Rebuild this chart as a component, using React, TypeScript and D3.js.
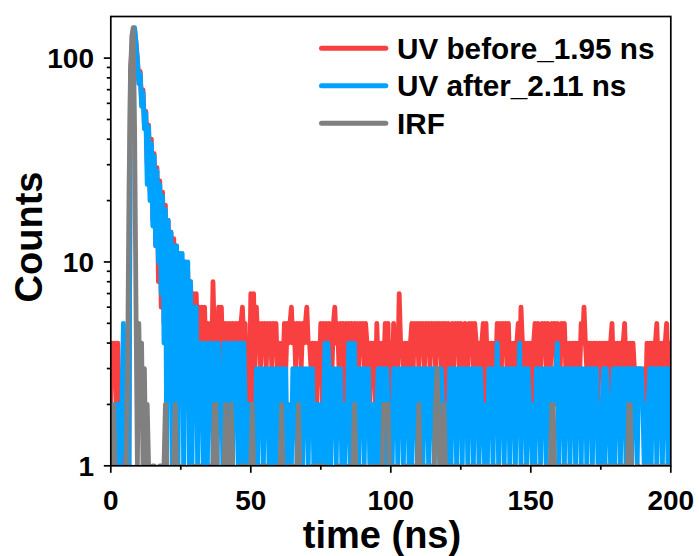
import React from 'react';
import * as d3 from 'd3';

// channel width of the decay histograms (ns)
const timeStep = 0.5;
const timeTicks = [0, 50, 100, 150, 200];
const timeMinorTicks = [25, 75, 125, 175];
const countTicks = [1, 10, 100];
const countMinorTicks = [2, 3, 4, 5, 6, 7, 8, 9, 20, 30, 40, 50, 60, 70, 80, 90];
const seriesLabels = ['UV before_1.95 ns', 'UV after_2.11 ns', 'IRF'];

// counts per channel, t = 0, 0.5, 1, ... 200 ns
const uvBefore = [
  2,4,3,4,2,4,2,1,2,1, 2,1,2,1,85,112,128,138,120,100,
  78,86,60,70,47,55,30,47,22,40, 16,34,12,29,8,25,6,22,5,19,
  2,16,5,14,3,13,4,12,2,11, 3,10,2,10,3,9,2,8,3,7,
  3,7,4,6,3,6,4,6,3,5, 4,5,3,8,4,5,3,6,4,6,
  3,5,4,5,3,5,4,5,3,5, 4,5,3,5,6,4,5,2,3,2,
  7,2,7,3,6,4,5,3,5,4, 5,3,5,4,5,3,5,4,5,3,
  4,3,4,3,5,3,5,4,5,6, 4,5,3,5,4,5,3,5,4,5,
  6,4,4,3,4,3,4,2,4,3, 5,2,5,4,5,3,5,4,3,5,
  6,4,5,3,5,4,5,2,5,3, 5,4,5,3,5,4,5,3,5,4,
  5,3,5,4,4,2,4,3,4,2, 5,3,4,3,4,3,5,3,5,2,
  4,2,5,3,4,3,7,4,4,3, 4,3,4,3,4,5,3,5,4,5,
  3,5,4,5,3,5,4,5,3,5, 4,5,3,5,4,5,3,5,2,5,
  2,5,3,4,5,3,5,4,5,3, 5,4,3,5,4,3,5,4,5,3,
  5,4,3,4,3,4,5,2,5,3, 4,3,4,3,4,3,5,4,5,3,
  5,4,5,3,5,3,4,3,4,3, 4,5,3,6,4,3,4,3,4,3,
  4,2,4,5,3,5,4,3,5,4, 5,3,5,4,3,5,4,5,3,5,
  4,3,5,4,5,3,4,3,4,3, 4,3,4,3,4,3,5,4,6,4,
  3,4,3,4,3,4,3,4,2,4, 3,4,3,4,3,4,2,4,5,3,
  4,3,4,3,4,3,4,5,3,4, 3,4,3,4,3,2,3,2,3,2,
  2,3,2,4,3,4,3,4,3,4, 5,3,4,3,4,3,4,5,3,4,
  4,
];

const uvAfter = [
  1,2,1,2,2,1,2,1,2,5, 2,1,2,1,70,110,130,141,118,96,
  75,84,58,68,45,54,24,46,20,38, 15,33,12,28,10,24,7,21,4,18,
  1,16,3,14,1,12,2,12,1,11, 2,11,1,10,2,10,1,8,1,6,
  2,6,1,4,2,4,1,4,3,1, 4,2,4,1,3,4,1,4,2,3,
  1,4,2,4,1,3,4,1,4,2, 4,1,3,4,1,4,2,1,2,1,
  2,1,2,1,3,1,3,2,3,1, 3,2,3,1,3,1,2,3,1,3,
  2,3,1,3,2,3,1,2,1,1, 3,2,3,1,3,2,3,1,3,2,
  3,1,3,2,3,1,2,1,2,1, 2,1,2,4,1,4,3,1,3,2,
  3,1,3,2,3,1,2,1,2,2, 4,1,4,2,4,1,3,1,3,2,
  3,1,3,2,3,1,2,1,2,1, 2,3,1,3,2,3,1,3,2,1,
  2,1,3,2,3,1,3,2,3,1, 3,2,3,1,3,1,3,2,3,1,
  3,2,3,1,3,2,3,1,3,2, 3,1,3,2,3,1,3,2,2,1,
  2,1,3,1,3,2,3,1,3,2, 3,1,3,2,3,1,3,2,3,1,
  3,2,3,1,3,2,2,1,2,1, 3,2,3,1,3,2,4,1,3,2,
  3,1,3,2,3,1,3,2,3,1, 3,2,4,1,3,2,3,1,3,2,
  2,1,2,1,3,2,3,1,3,2, 3,1,3,2,3,1,3,2,3,4,
  1,3,2,3,1,3,2,3,1,3, 2,3,1,3,2,3,1,3,2,3,
  1,3,2,3,1,3,2,3,1,2, 1,2,3,1,3,2,2,1,2,3,
  1,3,2,3,1,3,2,3,1,3, 2,3,1,3,2,3,1,3,2,3,
  2,1,2,1,2,3,1,3,2,3, 1,3,2,3,1,3,2,3,1,3,
  2,
];

const irf = [
  0,1,2,1,0,0,0,0,0,0, 0,1,3,22,78,128,141,45,6,1,
  5,2,4,1,3,1,2,1,0,0, 1,1,0,0,0,1,1,1,1,2,
  1,0,0,0,0,1,2,1,0,0, 0,1,1,0,0,0,0,0,1,1,
  0,0,1,1,1,0,0,0,0,0, 0,1,1,1,2,2,1,0,0,0,
  0,1,2,1,0,1,2,1,0,0, 0,0,0,1,1,1,1,0,0,0,
  1,2,1,0,0,0,0,1,1,1, 1,1,0,0,0,0,0,0,1,1,
  1,1,2,1,0,0,0,0,1,1, 0,0,1,1,2,1,0,0,0,0,
  0,0,0,0,1,1,1,1,1,1, 1,1,1,0,0,0,0,0,0,0,
  0,0,1,1,0,0,0,0,0,0, 1,1,1,1,2,1,0,0,0,0,
  1,1,0,0,0,0,1,1,0,0, 0,1,1,1,1,2,2,2,2,1,
  1,0,0,0,1,1,0,0,0,0, 1,1,1,0,0,0,0,1,1,1,
  2,1,0,0,1,1,0,0,0,1, 1,1,2,3,2,1,1,1,2,1,
  1,0,0,0,1,1,0,0,0,1, 1,0,0,0,0,1,1,1,0,0,
  0,1,1,1,1,0,0,0,1,1, 1,0,0,0,0,1,1,1,0,0,
  0,1,1,1,1,0,0,0,1,1, 0,0,0,0,1,1,1,1,0,0,
  0,1,1,0,0,1,1,1,0,0, 0,1,1,1,1,2,2,1,1,0,
  0,0,1,1,1,1,1,1,0,0, 0,1,1,1,0,0,0,1,1,0,
  0,0,0,1,1,0,0,0,1,1, 1,0,0,0,1,1,1,1,0,0,
  0,1,1,0,0,1,1,1,1,1, 2,2,1,0,0,0,1,1,0,0,
  0,1,1,1,1,0,0,0,1,1, 1,1,0,0,0,1,1,1,0,0,
  0,
];

const seriesColors = ['#F94040', '#00A2FF', '#808080'];

const W = 699;
const H = 556;
const P = { left: 110.8, right: 670.8, top: 16.5, bottom: 465.8 };
const FONT = "'Liberation Sans', Arial, Helvetica, sans-serif";

export default function App() {
  const x = d3.scaleLinear().domain([0, 200]).range([P.left, P.right]);
  const y = d3.scaleLog().domain([1, 160]).range([P.bottom, P.top]);

  const line = d3
    .line<number>()
    .defined((v) => v > 0)
    .x((_, i) => x(i * timeStep))
    .y((v) => y(v));

  const data = [uvBefore, uvAfter, irf];

  return (
    <svg
      width={W}
      height={H}
      viewBox={`0 0 ${W} ${H}`}
      style={{ position: 'absolute', left: 0, top: 0, background: '#fff' }}
      fontFamily={FONT}
      fontWeight="bold"
    >
      <defs>
        <clipPath id="plot-clip">
          <rect x={P.left} y={P.top} width={P.right - P.left} height={P.bottom - P.top} />
        </clipPath>
      </defs>
      <rect x={0} y={0} width={W} height={H} fill="#fff" />

      <g clipPath="url(#plot-clip)">
        {data.map((vals, k) => (
          <path
            key={k}
            d={line(vals) || ''}
            fill="none"
            stroke={seriesColors[k]}
            strokeWidth={4.8}
            strokeLinejoin="round"
            strokeLinecap="round"
          />
        ))}
      </g>

      {/* frame */}
      <rect
        x={P.left}
        y={P.top}
        width={P.right - P.left}
        height={P.bottom - P.top}
        fill="none"
        stroke="#000"
        strokeWidth={1.7}
      />

      {/* x ticks */}
      {timeTicks.map((t) => (
        <g key={'xt' + t}>
          <line x1={x(t)} x2={x(t)} y1={P.bottom} y2={P.bottom + 7} stroke="#000" strokeWidth={1.7} />
          <text x={x(t)} y={510} textAnchor="middle" fontSize={28}>
            {t}
          </text>
        </g>
      ))}
      {timeMinorTicks.map((t) => (
        <line key={'xm' + t} x1={x(t)} x2={x(t)} y1={P.bottom} y2={P.bottom + 4} stroke="#000" strokeWidth={1.7} />
      ))}

      {/* y ticks */}
      {countTicks.map((c) => (
        <g key={'yt' + c}>
          <line x1={P.left - 7} x2={P.left} y1={y(c)} y2={y(c)} stroke="#000" strokeWidth={1.7} />
          <text x={94} y={y(c)} dy="0.36em" textAnchor="end" fontSize={28}>
            {c}
          </text>
        </g>
      ))}
      {countMinorTicks.map((c) => (
        <line key={'ym' + c} x1={P.left - 4} x2={P.left} y1={y(c)} y2={y(c)} stroke="#000" strokeWidth={1.7} />
      ))}

      {/* axis titles */}
      <text x={382} y={548} textAnchor="middle" fontSize={38}>
        time (ns)
      </text>
      <text transform={`translate(42, 237) rotate(-90)`} textAnchor="middle" fontSize={38}>
        Counts
      </text>

      {/* legend */}
      {seriesLabels.map((label, k) => {
        const ly = 48.3 + k * 37.5;
        return (
          <g key={'lg' + k}>
            <line x1={321.5} x2={385.8} y1={ly} y2={ly} stroke={seriesColors[k]} strokeWidth={5} strokeLinecap="round" />
            <text x={397} y={ly} dy="0.36em" fontSize={29.7}>
              {label}
            </text>
          </g>
        );
      })}
    </svg>
  );
}
